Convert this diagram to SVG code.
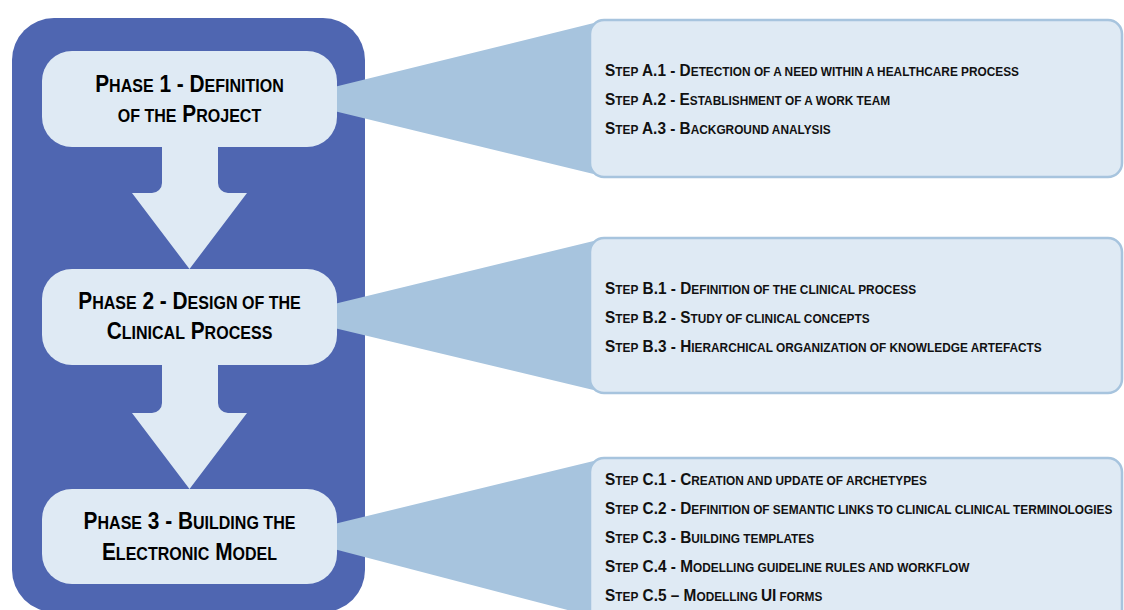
<svg xmlns="http://www.w3.org/2000/svg" width="1124" height="610" viewBox="0 0 1124 610">
  <style>
    .frame { fill: #4F66B1; }
    .phase { fill: #DFEAF4; }
    .wedge { fill: #A7C4DE; }
    .panel { fill: #DFEAF4; stroke: #A7C4DE; stroke-width: 2.5; }
    .ptxt { font-family: "Liberation Sans", Arial, sans-serif; font-weight: bold; font-size: 24px; fill: #000; text-anchor: middle; }
    .stxt { font-family: "Liberation Sans", Arial, sans-serif; font-weight: bold; font-size: 16px; fill: #111; }
    .sc { font-size: 0.77em; }
  </style>

  <!-- outer frame -->
  <rect class="frame" x="12" y="18" width="353" height="594" rx="42"/>

  <!-- callout wedges and down arrows -->
  <g id="connectors">
    <polygon class="wedge" points="330,88 606,20 606,177 330,110"/>
    <polygon class="wedge" points="330,305 606,238 606,393 330,327"/>
    <polygon class="wedge" points="330,525 606,458 606,620 330,548"/>
    <path class="phase" d="M162,145 V183 A10,10 0 0 1 152,193 H132 L189.5,269 L247,193 H228 A10,10 0 0 1 218,183 V145 Z"/>
    <path class="phase" d="M162,363 V403 A10,10 0 0 1 152,413 H132 L189.5,489 L247,413 H228 A10,10 0 0 1 218,403 V363 Z"/>
  </g>

  <!-- phase labels are condensed horizontally to a narrow face -->
  <g id="phase1">
    <rect class="phase" x="42" y="51" width="295" height="96" rx="30"/>
    <text class="ptxt" transform="translate(189.5,92) scale(0.868,1)">P<tspan class="sc">HASE</tspan> 1 - D<tspan class="sc">EFINITION</tspan></text>
    <text class="ptxt" transform="translate(189.5,122) scale(0.868,1)"><tspan class="sc">OF THE</tspan> P<tspan class="sc">ROJECT</tspan></text>
  </g>

  <g id="phase2">
    <rect class="phase" x="42" y="269" width="295" height="96" rx="30"/>
    <text class="ptxt" transform="translate(189.5,309) scale(0.868,1)">P<tspan class="sc">HASE</tspan> 2 - D<tspan class="sc">ESIGN OF THE</tspan></text>
    <text class="ptxt" transform="translate(189.5,339) scale(0.868,1)">C<tspan class="sc">LINICAL</tspan> P<tspan class="sc">ROCESS</tspan></text>
  </g>

  <g id="phase3">
    <rect class="phase" x="42" y="489" width="295" height="95" rx="30"/>
    <text class="ptxt" transform="translate(189.5,529) scale(0.868,1)">P<tspan class="sc">HASE</tspan> 3 - B<tspan class="sc">UILDING THE</tspan></text>
    <text class="ptxt" transform="translate(189.5,560) scale(0.868,1)">E<tspan class="sc">LECTRONIC</tspan> M<tspan class="sc">ODEL</tspan></text>
  </g>

  <g id="stepsA">
    <rect class="panel" x="590" y="20" width="532" height="157" rx="14"/>
    <text class="stxt" transform="translate(605,76) scale(0.962,1)">S<tspan class="sc">TEP</tspan> A.1 - D<tspan class="sc">ETECTION OF A NEED WITHIN A HEALTHCARE PROCESS</tspan></text>
    <text class="stxt" transform="translate(605,105) scale(0.962,1)">S<tspan class="sc">TEP</tspan> A.2 - E<tspan class="sc">STABLISHMENT OF A WORK TEAM</tspan></text>
    <text class="stxt" transform="translate(605,134) scale(0.962,1)">S<tspan class="sc">TEP</tspan> A.3 - B<tspan class="sc">ACKGROUND ANALYSIS</tspan></text>
  </g>

  <g id="stepsB">
    <rect class="panel" x="590" y="238" width="532" height="155" rx="14"/>
    <text class="stxt" transform="translate(605,294) scale(0.962,1)">S<tspan class="sc">TEP</tspan> B.1 - D<tspan class="sc">EFINITION OF THE CLINICAL PROCESS</tspan></text>
    <text class="stxt" transform="translate(605,323) scale(0.962,1)">S<tspan class="sc">TEP</tspan> B.2 - S<tspan class="sc">TUDY OF CLINICAL CONCEPTS</tspan></text>
    <text class="stxt" transform="translate(605,352) scale(0.962,1)">S<tspan class="sc">TEP</tspan> B.3 - H<tspan class="sc">IERARCHICAL ORGANIZATION OF KNOWLEDGE ARTEFACTS</tspan></text>
  </g>

  <g id="stepsC">
    <rect class="panel" x="590" y="458" width="532" height="170" rx="14"/>
    <text class="stxt" transform="translate(605,485) scale(0.962,1)">S<tspan class="sc">TEP</tspan> C.1 - C<tspan class="sc">REATION AND UPDATE OF ARCHETYPES</tspan></text>
    <text class="stxt" transform="translate(605,514) scale(0.962,1)">S<tspan class="sc">TEP</tspan> C.2 - D<tspan class="sc">EFINITION OF SEMANTIC LINKS TO CLINICAL CLINICAL TERMINOLOGIES</tspan></text>
    <text class="stxt" transform="translate(605,543) scale(0.962,1)">S<tspan class="sc">TEP</tspan> C.3 - B<tspan class="sc">UILDING TEMPLATES</tspan></text>
    <text class="stxt" transform="translate(605,572) scale(0.962,1)">S<tspan class="sc">TEP</tspan> C.4 - M<tspan class="sc">ODELLING GUIDELINE RULES AND WORKFLOW</tspan></text>
    <text class="stxt" transform="translate(605,601) scale(0.962,1)">S<tspan class="sc">TEP</tspan> C.5 – M<tspan class="sc">ODELLING </tspan>UI<tspan class="sc"> FORMS</tspan></text>
  </g>
</svg>
